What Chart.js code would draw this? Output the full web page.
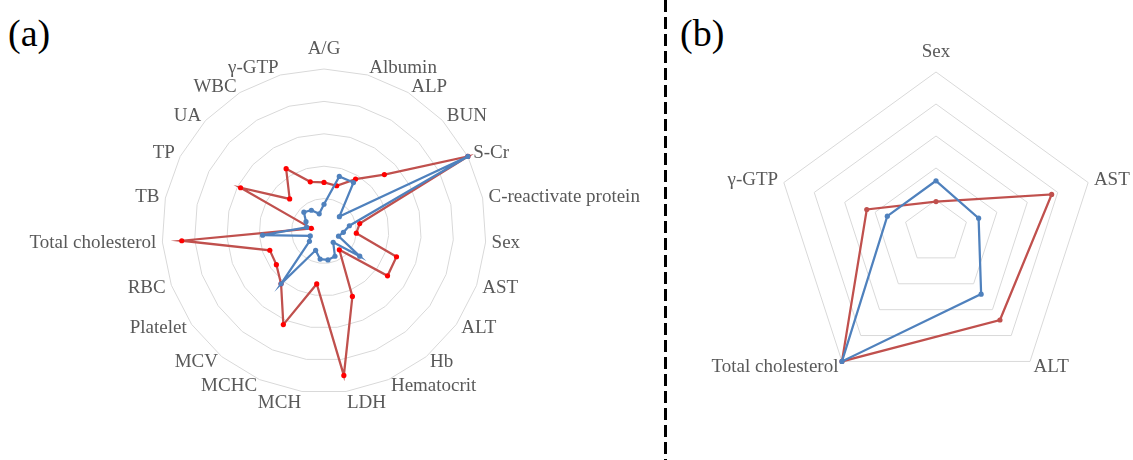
<!DOCTYPE html>
<html lang="en">
  <head>
    <meta charset="UTF-8" />
    <title>Radar charts (a) and (b)</title>
    <script src="https://cdn.jsdelivr.net/npm/chart.js@4.4.1/dist/chart.umd.min.js"></script>
    <style>
      html,
      body {
        margin: 0;
        padding: 0;
        background: #fff;
        overflow: hidden;
      }
      body {
        position: relative;
        width: 1133px;
        height: 460px;
        font-family: "Liberation Serif", "Times New Roman", serif;
      }
      .tag {
        position: absolute;
        top: 10px;
        font-size: 38px;
        line-height: 46px;
        color: #000;
      }
      .divider {
        position: absolute;
        left: 664px;
        top: 0;
        width: 3px;
        height: 460px;
        background: repeating-linear-gradient(to bottom, #000 0 12px, transparent 12px 17px);
      }
      canvas {
        position: absolute;
      }
    </style>
  </head>
  <body>
    <div class="tag" style="left: 8px">(a)</div>
    <div class="tag" style="left: 680px">(b)</div>
    <div class="divider"></div>

    <!-- panel (a): centre 324,231 radius 162.5 -->
    <canvas id="chartA" width="688" height="462" style="left: -20px; top: 0"></canvas>
    <!-- panel (b): centre 936,232 radius 160 -->
    <canvas id="chartB" width="520" height="464" style="left: 676px; top: 0"></canvas>

    <script>
      const labelsA = ["A/G", "Albumin", "ALP", "BUN", "S-Cr", "C-reactivate protein", "Sex", "AST", "ALT", "Hb", "Hematocrit", "LDH", "MCH", "MCHC", "MCV", "Platelet", "RBC", "Total cholesterol", "TB", "TP", "UA", "WBC", "γ-GTP"];
      const redA = [0.3, 0.29, 0.375, 0.51, 1.0, 0.225, 0.2, 0.475, 0.48, 0.15, 0.44, 0.9, 0.33, 0.63, 0.42, 0.36, 0.355, 0.88, 0.08, 0.58, 0.29, 0.45, 0.315];
      const blueA = [0.165, 0.35, 0.35, 0.13, 1.0, 0.16, 0.12, 0.095, 0.27, 0.09, 0.17, 0.18, 0.175, 0.13, 0.42, 0.11, 0.09, 0.38, 0.11, 0.125, 0.17, 0.15, 0.11];

      const labelsB = ["Sex", "AST", "ALT", "Total cholesterol", "γ-GTP"];
      const redB = [0.19, 0.76, 0.68, 1.0, 0.455];
      const blueB = [0.32, 0.28, 0.48, 1.0, 0.32];

      const RED = "#C0504D";
      const BLUE = "#4F81BD";

      // axis names drawn next to the outer vertex, Excel style
      const axisLabels = {
        id: "axisLabels",
        afterDraw(chart) {
          const scale = chart.scales.r;
          const ctx = chart.ctx;
          ctx.save();
          ctx.font = "19px 'Liberation Serif'";
          ctx.fillStyle = "#595959";
          ctx.textBaseline = "middle";
          chart.data.labels.forEach((text, i) => {
            const a = scale.getIndexAngle(i);
            const s = Math.sin(a);
            const c = Math.cos(a);
            const v = scale.getPointPosition(i, scale.drawingArea);
            const p = scale.getPointPosition(i, scale.drawingArea + 6);
            let y = v.y - c * 7;
            if (c >= 0.98) y = v.y - 20;
            if (c <= -0.98) y = v.y + 12;
            ctx.textAlign = Math.abs(s) < 0.05 ? "center" : s > 0 ? "left" : "right";
            ctx.fillText(text, p.x, y);
          });
          ctx.restore();
        },
      };

      function radar(id, labels, red, blue, redPoint, pad) {
        return new Chart(document.getElementById(id), {
          type: "radar",
          data: {
            labels: labels,
            datasets: [
              {
                data: blue,
                borderColor: BLUE,
                backgroundColor: "transparent",
                borderWidth: 2.25,
                pointRadius: 2.6,
                pointBackgroundColor: BLUE,
                pointBorderColor: BLUE,
                pointBorderWidth: 0,
                fill: false,
              },
              {
                data: red,
                borderColor: RED,
                backgroundColor: "transparent",
                borderWidth: 2.25,
                pointRadius: 2.6,
                pointBackgroundColor: redPoint,
                pointBorderColor: redPoint,
                pointBorderWidth: 0,
                fill: false,
              },
            ],
          },
          options: {
            responsive: false,
            animation: false,
            devicePixelRatio: 1,
            layout: { padding: pad },
            plugins: { legend: { display: false }, tooltip: { enabled: false } },
            scales: {
              r: {
                min: 0,
                max: 1,
                ticks: { display: false, stepSize: 0.2 },
                grid: { color: "#D9D9D9", lineWidth: 1 },
                angleLines: { display: false },
                pointLabels: { display: false },
              },
            },
          },
          plugins: [axisLabels],
        });
      }

      radar("chartA", labelsA, redA, blueA, "#FF0000", { left: 181.5, right: 181.5, top: 68.5, bottom: 68.5 });
      radar("chartB", labelsB, redB, blueB, RED, { left: 100, right: 100, top: 72, bottom: 72 });
    </script>
  </body>
</html>
